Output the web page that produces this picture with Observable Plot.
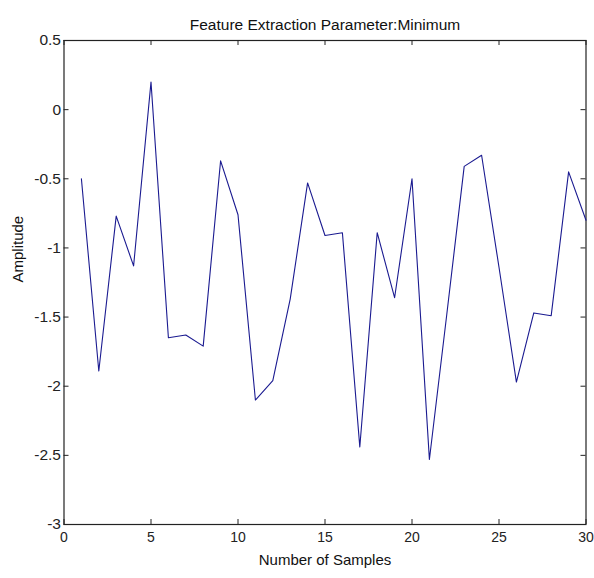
<!DOCTYPE html>
<html>
<head>
<meta charset="utf-8">
<script src="https://cdn.jsdelivr.net/npm/d3@7"></script>
<script src="https://cdn.jsdelivr.net/npm/@observablehq/plot@0.6"></script>
<style>
  html, body { margin: 0; padding: 0; background: #fff; }
  svg { display: block; }
</style>
</head>
<body>
<div id="chart"></div>
<script>
const title = "Feature Extraction Parameter:Minimum";
const xLabel = "Number of Samples";
const yLabel = "Amplitude";
const samples = d3.range(1, 31);
const amplitude = [
  -0.50, -1.89, -0.77, -1.13, 0.20, -1.65, -1.63, -1.71, -0.37, -0.76,
  -2.10, -1.96, -1.37, -0.53, -0.91, -0.89, -2.44, -0.89, -1.36, -0.50,
  -2.53, -1.48, -0.41, -0.33, -1.14, -1.97, -1.47, -1.49, -0.45, -0.80
];
const xTicks = [0, 5, 10, 15, 20, 25, 30];
const yTicks = [0.5, 0, -0.5, -1, -1.5, -2, -2.5, -3];
const yTickLabels = ["0.5", "0", "-0.5", "-1", "-1.5", "-2", "-2.5", "-3"];

const data = samples.map((s, i) => ({x: s, y: amplitude[i]}));

const W = 594, H = 578;
const mL = 63.5, mR = 8.5, mT = 40, mB = 54;
const fw = W - mL - mR, fh = H - mT - mB;
const tick = 5;
const ink = "#222";

const chart = Plot.plot({
  width: W,
  height: H,
  marginLeft: mL,
  marginRight: mR,
  marginTop: mT,
  marginBottom: mB,
  style: {fontFamily: "'Liberation Sans', Arial, sans-serif", fontSize: "15px", color: ink, background: "#fff"},
  x: {domain: [0, 30], label: null},
  y: {domain: [-3, 0.5], label: null},
  marks: [
    Plot.axisX({ticks: xTicks, tickSize: 0, tickPadding: 8, tickFormat: d => String(d), fontSize: 14}),
    Plot.axisY({ticks: yTicks, tickSize: 0, tickPadding: 3, tickFormat: d => yTickLabels[yTicks.indexOf(d)], fontSize: 15.5}),
    // inward ticks on all four sides
    Plot.tickX(xTicks, {x: d => d, insetTop: fh - tick, stroke: ink}),
    Plot.tickX(xTicks, {x: d => d, insetBottom: fh - tick, stroke: ink}),
    Plot.tickY(yTicks, {y: d => d, insetRight: fw - tick, stroke: ink}),
    Plot.tickY(yTicks, {y: d => d, insetLeft: fw - tick, stroke: ink}),
    Plot.frame({stroke: ink, strokeWidth: 1.2}),
    Plot.line(data, {x: "x", y: "y", stroke: "#1a1a90", strokeWidth: 1.1}),
    Plot.text([title], {frameAnchor: "top", dy: -22, fontSize: 15.5, fill: "#111"}),
    Plot.text([xLabel], {frameAnchor: "bottom", dy: 40, fontSize: 15, fill: "#111"}),
    Plot.text([yLabel], {frameAnchor: "left", dx: -46, rotate: -90, fontSize: 15, fill: "#111"})
  ]
});
document.getElementById("chart").append(chart);
</script>
</body>
</html>
